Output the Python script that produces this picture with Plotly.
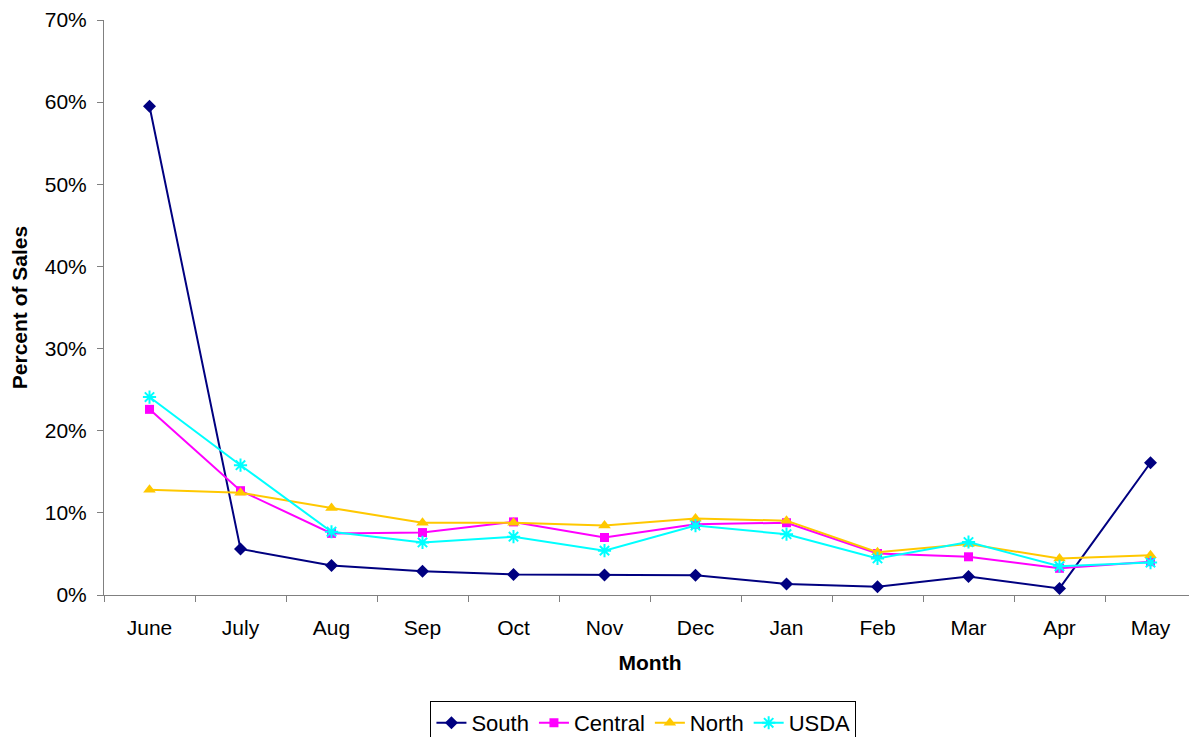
import plotly.graph_objects as go

months = ["June", "July", "Aug", "Sep", "Oct", "Nov", "Dec", "Jan", "Feb", "Mar", "Apr", "May"]
south = [59.5, 5.6, 3.6, 2.9, 2.5, 2.45, 2.4, 1.35, 1.0, 2.25, 0.8, 16.1]
central = [22.6, 12.7, 7.5, 7.6, 8.9, 7.0, 8.6, 8.8, 5.05, 4.65, 3.25, 4.05]
north = [12.8, 12.45, 10.6, 8.8, 8.8, 8.45, 9.3, 9.05, 5.2, 6.2, 4.45, 4.85]
usda = [24.1, 15.8, 7.7, 6.4, 7.1, 5.4, 8.45, 7.4, 4.45, 6.45, 3.5, 3.95]
yticks = [0, 10, 20, 30, 40, 50, 60, 70]

font = "Liberation Sans, Arial, sans-serif"
FS = 21

fig = go.Figure()
series = [
    ("South", [v / 100 for v in south], "#000080", "diamond", 10, None),
    ("Central", [v / 100 for v in central], "#FF00FF", "square", 9, None),
    ("North", [v / 100 for v in north], "#FFC800", "triangle-up", 11, None),
    ("USDA", [v / 100 for v in usda], "#00FFFF", "asterisk-open", 11, 2),
]
for name, vals, color, sym, size, lw in series:
    marker = dict(symbol=sym, size=size, color=color)
    if lw:
        marker["line"] = dict(color=color, width=lw)
    else:
        marker["line"] = dict(width=0)
    fig.add_trace(go.Scatter(x=months, y=vals, name=name, mode="lines+markers",
                             line=dict(color=color, width=2), marker=marker))

# page body has an 8px margin, so the figure is drawn offset by (8, 8)
fig.update_layout(
    width=1189, height=729,
    margin=dict(l=96, r=1, t=12, b=142, autoexpand=False),
    paper_bgcolor="white", plot_bgcolor="white",
    font=dict(family=font, size=FS, color="black"),
    showlegend=True,
    legend=dict(orientation="h", x=0.494, xanchor="center", y=-0.1843, yanchor="top",
                bordercolor="black", borderwidth=1, font=dict(size=22),
                itemwidth=30, tracegroupgap=0),
)
fig.update_xaxes(
    type="category", categoryorder="array", categoryarray=months,
    range=[-0.5, 11.5], tickson="boundaries", automargin=False,
    showline=True, linecolor="#808080", linewidth=1,
    ticks="outside", ticklen=6, tickcolor="#808080", ticklabelstandoff=14,
    showgrid=False, zeroline=False,
    title=dict(text="<b>Month</b>", font=dict(size=FS), standoff=17),
    tickfont=dict(size=FS),
)
fig.update_yaxes(
    range=[0, 0.70], tickvals=[t / 100 for t in yticks],
    ticktext=[f"{t}%" for t in yticks], automargin=False,
    showline=True, linecolor="#808080", linewidth=1,
    ticks="outside", ticklen=6, tickcolor="#808080", ticklabelstandoff=6,
    showgrid=False, zeroline=False,
    title=dict(text="<b>Percent of Sales</b>", font=dict(size=FS), standoff=12),
    tickfont=dict(size=FS),
)

fig.write_html("out.html")
